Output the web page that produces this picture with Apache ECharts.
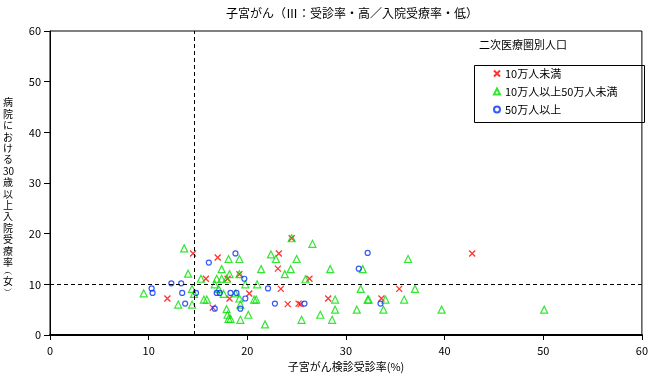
<!DOCTYPE html>
<html>
<head>
<meta charset="utf-8">
<script src="https://cdn.jsdelivr.net/npm/echarts@6/dist/echarts.min.js"></script>
<style>
html, body { margin: 0; padding: 0; background: #fff; }
#main { width: 651px; height: 377px; }
</style>
</head>
<body>
<div id="main"></div>
<script>
var titleText = '子宮がん（Ⅲ：受診率・高／入院受療率・低）';
var xName = '子宮がん検診受診率(%)';
var yNameChars = ['病', '院', 'に', 'お', 'け', 'る', '30', '歳', '以', '上', '入', '院', '受', '療', '率', '{p|︵}', '女', '{p|︶}'];
var legendTitle = '二次医療圏別人口';
var seriesNames = ['10万人未満', '10万人以上50万人未満', '50万人以上'];

// 基準線
var refX = 14.6;
var refY = 10;

// [受診率, 入院受療率]
var smallData = [
	[14.5, 16.1], [17.0, 15.3], [19.2, 12.0], [15.8, 11.1], [18.0, 11.1], [20.2, 8.2],
	[18.2, 7.2], [11.9, 7.2], [16.5, 5.4], [24.5, 19.1], [23.2, 16.1], [23.1, 13.1],
	[26.3, 11.1], [23.4, 9.1], [24.1, 6.1], [25.2, 6.2], [25.4, 6.1], [28.2, 7.2],
	[42.8, 16.1], [35.4, 9.1], [33.6, 7.2]
];
var middleData = [
	[13.6, 17.1], [14.0, 12.1], [15.3, 11.1], [14.4, 9.1], [9.5, 8.2], [14.6, 8.1],
	[15.6, 7.0], [15.9, 7.0], [13.0, 6.0], [14.4, 6.0], [18.1, 15.0], [19.2, 15.0],
	[17.4, 13.0], [18.2, 12.0], [19.2, 12.0], [16.9, 11.1], [17.4, 11.1], [17.9, 11.1],
	[16.7, 10.0], [19.8, 10.0], [21.0, 10.0], [17.1, 9.1], [17.6, 8.1], [18.8, 8.2],
	[19.2, 7.2], [20.7, 7.0], [20.9, 7.0], [19.3, 6.0], [17.9, 5.1], [20.1, 4.0],
	[18.0, 4.0], [18.1, 3.2], [18.3, 3.2], [19.3, 3.0], [24.5, 19.1], [26.6, 18.0],
	[22.4, 15.9], [22.9, 15.0], [25.0, 15.0], [21.4, 13.0], [24.4, 13.0], [28.4, 13.0],
	[31.7, 13.0], [23.8, 12.0], [25.9, 11.0], [31.5, 9.1], [28.9, 7.0], [32.2, 7.0],
	[28.9, 5.0], [31.1, 5.0], [25.5, 3.0], [27.4, 4.0], [28.6, 3.0], [21.8, 2.1],
	[36.3, 15.0], [37.0, 9.1], [34.0, 7.0], [32.3, 7.0], [35.9, 7.0], [33.8, 5.0],
	[39.7, 5.0], [50.1, 5.0]
];
var largeData = [
	[18.8, 16.1], [16.1, 14.3], [19.7, 11.1], [12.3, 10.2], [13.3, 10.2], [10.3, 9.2],
	[10.4, 8.3], [13.4, 8.3], [14.8, 8.3], [16.9, 8.3], [17.2, 8.3], [18.3, 8.3],
	[18.9, 8.3], [19.8, 7.2], [13.7, 6.2], [16.7, 5.2], [19.3, 5.2], [22.1, 9.2],
	[22.8, 6.2], [25.8, 6.2], [32.2, 16.2], [31.3, 13.1], [33.5, 6.2]
];

var font = '"Noto Sans CJK JP", sans-serif';

var myChart = echarts.init(document.getElementById('main'));

var option = {
	animation: false,
	backgroundColor: '#fff',
	title: {
		text: titleText,
		left: 347,
		textAlign: 'center',
		top: 2,
		textStyle: { fontFamily: font, fontSize: 12, fontWeight: 'normal', color: '#000' }
	},
	grid: {
		left: 50,
		right: 6,
		top: 31,
		bottom: 39,
		show: true,
		borderColor: '#000',
		borderWidth: 1
	},
	legend: {
		orient: 'vertical',
		left: 488,
		top: 63,
		itemGap: 7,
		itemWidth: 6,
		itemHeight: 6,
		data: seriesNames,
		textStyle: { fontFamily: font, fontSize: 11, color: '#000', lineHeight: 11 }
	},
	xAxis: {
		type: 'value',
		min: 0,
		max: 60,
		interval: 10,
		name: xName,
		nameLocation: 'middle',
		nameGap: 26,
		nameTextStyle: { fontFamily: font, fontSize: 11, color: '#000' },
		axisLine: { lineStyle: { color: '#000', width: 2 } },
		axisTick: { length: 5, lineStyle: { color: '#000' } },
		axisLabel: { margin: 10, fontFamily: font, fontSize: 11, color: '#000' },
		splitLine: { show: false }
	},
	yAxis: {
		type: 'value',
		min: 0,
		max: 60,
		interval: 10,
		axisLine: { show: true, lineStyle: { color: '#000', width: 1 } },
		axisTick: { show: true, length: 6, lineStyle: { color: '#000' } },
		axisLabel: { margin: 9, fontFamily: font, fontSize: 11, color: '#000' },
		splitLine: { show: false }
	},
	graphic: [{
		type: 'text',
		left: 479,
		top: 39,
		style: { text: legendTitle, font: '11px ' + font, fill: '#000' }
	}, {
		type: 'rect',
		left: 472,
		top: 63,
		shape: { width: 170, height: 57 },
		style: { fill: 'none', stroke: '#000', lineWidth: 1 }
	}, {
		type: 'text',
		left: 3,
		top: 97,
		style: {
			text: yNameChars.join('\n'),
			font: '10px ' + font,
			fill: '#000',
			align: 'center',
			width: 12,
			lineHeight: 11.4,
			rich: { p: { fontSize: 10, lineHeight: 8 } }
		}
	}],
	series: [{
		name: seriesNames[0],
		type: 'scatter',
		symbol: 'path://M0,0L8,8M8,0L0,8',
		symbolSize: 6,
		itemStyle: { color: 'rgba(0,0,0,0)', borderColor: '#ff0000', borderWidth: 1.3 },
		data: smallData,
		markLine: {
			silent: true,
			symbol: 'none',
			label: { show: false },
			lineStyle: { color: '#000', type: [4, 3], width: 1 },
			data: [{ xAxis: refX }, { yAxis: refY }]
		}
	}, {
		name: seriesNames[1],
		type: 'scatter',
		symbol: 'triangle',
		symbolSize: 7,
		itemStyle: { color: 'rgba(0,0,0,0)', borderColor: '#00e000', borderWidth: 1.2 },
		data: middleData
	}, {
		name: seriesNames[2],
		type: 'scatter',
		symbol: 'circle',
		symbolSize: 5,
		itemStyle: { color: 'rgba(0,0,0,0)', borderColor: '#0030ff', borderWidth: 1.2 },
		data: largeData
	}]
};

myChart.setOption(option);
</script>
</body>
</html>
